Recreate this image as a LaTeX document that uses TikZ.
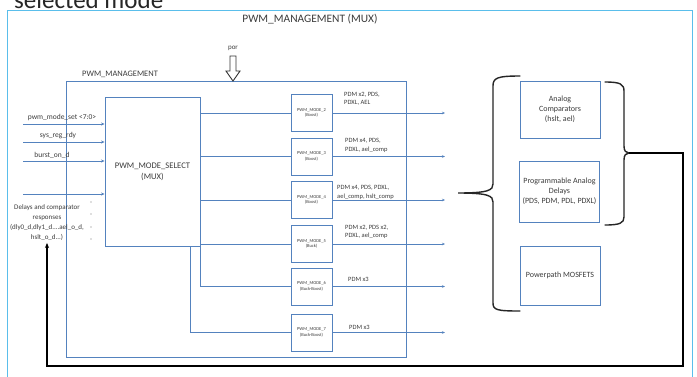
\documentclass[tikz,border=0pt]{standalone}
\usepackage{fontspec}
\setmainfont{Carlito}
\usetikzlibrary{arrows.meta,calc}
\definecolor{frameblue}{RGB}{90,190,235}
\definecolor{lineblue}{RGB}{84,130,190}
\definecolor{txt}{RGB}{60,60,60}
\begin{document}
\begin{tikzpicture}[x=1pt,y=-1pt,
  blk/.style={draw=lineblue, line width=0.9pt, inner sep=0pt, align=center, text=txt},
  modebox/.style={blk, minimum width=41pt, minimum height=37pt, font=\fontsize{4.5}{5.5}\selectfont},
  rbox/.style={blk, minimum width=80pt, font=\fontsize{8}{10}\selectfont},
  sig/.style={draw=lineblue, line width=0.9pt},
  inarr/.style={sig, -{Stealth[length=3.5pt,width=3pt]}},
  outarr/.style={sig, -{Stealth[length=3pt,width=2.5pt]}},
  outlbl/.style={font=\fontsize{6.5}{8.5}\selectfont, text=txt, align=left, anchor=west, inner sep=0pt},
  inlbl/.style={font=\fontsize{7.5}{9}\selectfont, text=txt, inner sep=0pt},
  bracestyle/.style={draw=black!85, line width=1.4pt, line cap=round},
  fbline/.style={draw=black, line width=1.3pt}]
\useasboundingbox (0,0) rectangle (697,376);
\fill[white] (0,0) rectangle (697,376);

% outer frame and titles
\draw[draw=frameblue, line width=1pt] (7.5,10) rectangle (692,400);
\node[font=\fontsize{25}{30}\selectfont, anchor=base west, inner sep=0pt, text=black!85] (sel) at (14,8) {selected mode};
\node[font=\fontsize{11.4}{13}\selectfont, text=txt] (title) at (310,19) {PWM\_MANAGEMENT (MUX)};

% PWM_MANAGEMENT block
\node[blk, minimum width=340pt, minimum height=276pt] (pm) at (236,219) {};
\node[font=\fontsize{8.4}{10}\selectfont, text=txt, anchor=base west, inner sep=0pt] (pmlbl) at (82,76) {PWM\_MANAGEMENT};
\node[font=\fontsize{7}{8}\selectfont, text=txt] (por) at (233,48) {por};
\draw[black!80, line width=0.9pt, fill=white, line join=miter] (230,56) -- (236,56) -- (236,71) -- (240,71) -- (233,81) -- (226,71) -- (230,71) -- cycle;

% MUX
\node[blk, minimum width=95pt, minimum height=149pt, font=\fontsize{8.6}{11}\selectfont] (mux) at (152.5,171.5) {PWM\_MODE\_SELECT\\(MUX)};

% mode boxes
\node[modebox] (m2) at (311.5,113) {PWM\_MODE\_2\\(Boost)};
\node[modebox] (m3) at (311.5,156.5) {PWM\_MODE\_3\\(Boost)};
\node[modebox] (m4) at (311.5,200) {PWM\_MODE\_4\\(Boost)};
\node[modebox] (m5) at (311.5,244) {PWM\_MODE\_5\\(Buck)};
\node[modebox] (m6) at (311.5,286.5) {PWM\_MODE\_6\\(Buck-Boost)};
\node[modebox] (m7) at (311.5,332.5) {PWM\_MODE\_7\\(Buck-Boost)};

% mux to modes
\draw[sig] (mux.east |- m2.west) -- (m2.west);
\draw[sig] (mux.east |- m3.west) -- (m3.west);
\draw[sig] (mux.east |- m4.west) -- (m4.west);
\draw[sig] (mux.east |- m5.west) -- (m5.west);
\draw[sig] (mux.south east) |- (m6.west);
\coordinate (tap7) at (190,246);
\draw[sig] (tap7) |- (m7.west);

% outputs
\coordinate (o2) at (445,113);
\coordinate (o3) at (445,156.5);
\coordinate (o4) at (445,200);
\coordinate (o5) at (445,244);
\coordinate (o6) at (445,286.5);
\coordinate (o7) at (445,332.5);
\draw[outarr] (m2.east) -- (o2);
\draw[outarr] (m3.east) -- (o3);
\draw[outarr] (m4.east) -- (o4);
\draw[outarr] (m5.east) -- (o5);
\draw[outarr] (m6.east) -- (o6);
\draw[outarr] (m7.east) -- (o7);
\node[outlbl] (l2) at (344,99) {PDM x2, PDS,\\PDXL, AEL};
\node[outlbl] (l3) at (345,145.5) {PDM x4, PDS,\\PDXL, ael\_comp};
\node[outlbl] (l4) at (337,192.5) {PDM x4, PDS, PDXL,\\ael\_comp, hslt\_comp};
\node[outlbl] (l5) at (345,232) {PDM x2, PDS x2,\\PDXL, ael\_comp};
\node[outlbl] (l6) at (348,279) {PDM x3};
\node[outlbl] (l7) at (349,327) {PDM x3};

% inputs
\coordinate (i1) at (23,124);
\coordinate (i2) at (23,142);
\coordinate (i3) at (23,161);
\coordinate (i4) at (23,194);
\draw[inarr] (i1) -- (i1 -| mux.west);
\draw[inarr] (i2) -- (i2 -| mux.west);
\draw[inarr] (i3) -- (i3 -| mux.west);
\draw[inarr] (i4) -- (i4 -| mux.west);
\node[inlbl] (t1) at (62,117.5) {pwm\_mode\_set <7:0>};
\node[inlbl] (t2) at (58,136) {sys\_reg\_rdy};
\node[inlbl] (t3) at (52,155) {burst\_on\_d};
\node[inlbl, align=center, font=\fontsize{7}{10}\selectfont, outer sep=2pt] (dly) at (47,223) {Delays and comparator\\responses\\(dly0\_d,dly1\_d....ael\_o\_d,\\hslt\_o\_d...)};
\foreach \yy in {202,214,227,239} \fill[txt!70] (91,\yy) circle (0.6);

% right blocks
\node[rbox, minimum height=57pt] (ac) at (560,109.5) {Analog\\Comparators\\(hslt, ael)};
\node[rbox, minimum height=61pt] (pad) at (559.5,191.5) {Programmable Analog\\Delays\\(PDS, PDM, PDL, PDXL)};
\node[rbox, minimum height=59pt] (pmos) at (560,275.5) {Powerpath MOSFETS};

% braces
\draw[bracestyle] (520,76) .. controls (497,76) and (493,78) .. (493,86) -- (493,184) .. controls (493,190) and (489,193) .. (458,193) .. controls (489,193) and (493,196) .. (493,202) -- (493,303) .. controls (493,310) and (497,311) .. (520,311);
\draw[bracestyle] (605,82) .. controls (620,82) and (624,84) .. (624,91) -- (624,146) .. controls (624,151) and (626,153) .. (629,153) .. controls (626,153) and (624,155) .. (624,160) -- (624,217) .. controls (624,223) and (620,225) .. (605,225);

% feedback
\coordinate (rbtip) at (629,153);
\coordinate (fb1) at (683,153);
\coordinate (fb2) at (683,366);
\draw[fbline, -{Stealth[length=5pt,width=4pt]}] (rbtip) -- (fb1) -- (fb2) -| (dly.south);
\end{tikzpicture}
\end{document}
